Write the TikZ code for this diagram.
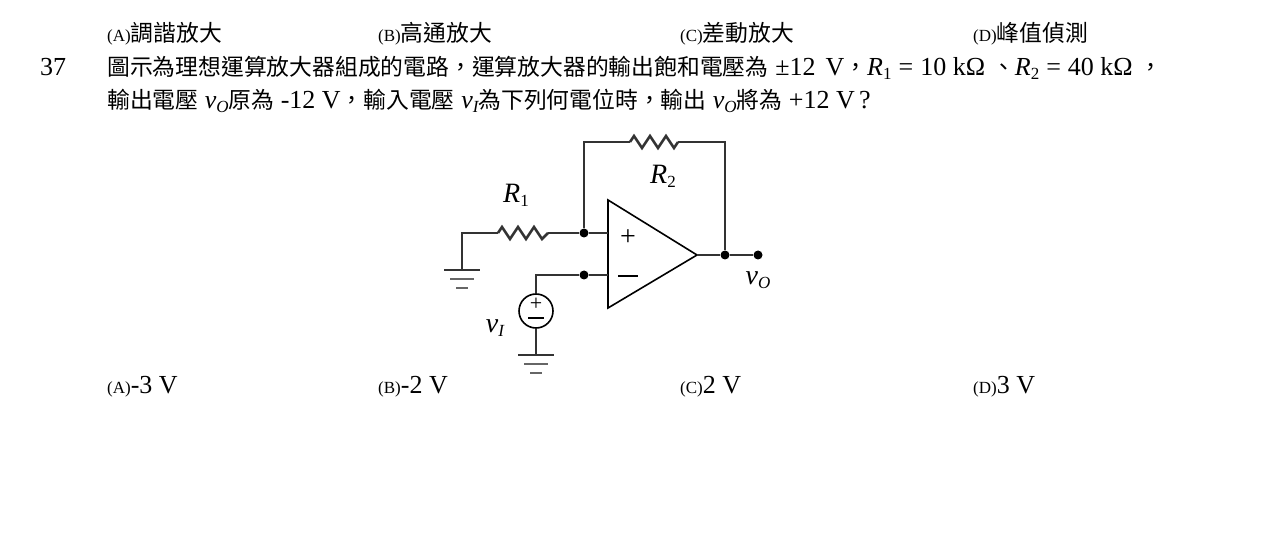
\documentclass[tikz,border=0pt]{standalone}
\usepackage{fontspec}
\setmainfont{Liberation Serif}
\newfontfamily\cjk{Noto Sans CJK TC}
\usetikzlibrary{calc}
\newcommand{\ital}[1]{\textit{#1}}
\newcommand{\subs}[1]{\raisebox{-0.3ex}{\fontsize{17}{17}\selectfont #1}}
\newcommand{\opt}[1]{{\fontsize{17}{17}\selectfont(#1)}}
\newcommand{\gp}{\hspace{7pt}}
\begin{document}
\begin{tikzpicture}[x=1pt,y=-1pt,
  txt/.style={anchor=base west,inner sep=0pt,font=\fontsize{26}{28}\selectfont},
  wire/.style={line width=2.6pt,draw=black!80},
  dotn/.style={circle,fill=black,inner sep=0pt,minimum size=9pt},
  lbl/.style={inner sep=0pt,font=\fontsize{28}{30}\selectfont\itshape}]
\useasboundingbox[fill=white] (0,0) rectangle (1274,534);
\def\cj{\cjk\fontsize{22.8}{24}\selectfont}
% question text
\node[txt] (oa) at (107,42) {\opt{A}{\cj 調諧放大}};
\node[txt] (ob) at (378,42) {\opt{B}{\cj 高通放大}};
\node[txt] (oc) at (680,42) {\opt{C}{\cj 差動放大}};
\node[txt] (od) at (973,42) {\opt{D}{\cj 峰值偵測}};
\node[txt] (num) at (40,76) {37};
\node[txt] (l2) at (107,76) {{\cj 圖示為理想運算放大器組成的電路，運算放大器的輸出飽和電壓為}\gp±12\hspace{10pt}V{\cj ，}\ital{R}\subs{1}\gp=\gp10 kΩ\gp{\cj 、}\ital{R}\subs{2}\gp=\gp40 kΩ\gp{\cj ，}};
\node[txt] (l3) at (107,109) {{\cj 輸出電壓} \ital{v}\subs{\itshape O}{\cj 原為} -12 V{\cj ，輸入電壓} \ital{v}\subs{\itshape I}{\cj 為下列何電位時，輸出} \ital{v}\subs{\itshape O}{\cj 將為} +12 V\,?};
\node[txt] (pa) at (107,393) {\opt{A}-3 V};
\node[txt] (pb) at (378,393) {\opt{B}-2 V};
\node[txt] (pc) at (680,393) {\opt{C}2 V};
\node[txt] (pd) at (973,393) {\opt{D}3 V};
% circuit coordinates
\coordinate (g1) at (462,270);
\coordinate (c1) at (462,233);
\coordinate (r1a) at (498,233);
\coordinate (r1b) at (548,233);
\coordinate (fbtl) at (584,142);
\coordinate (r2a) at (630,142);
\coordinate (r2b) at (678,142);
\coordinate (fbtr) at (725,142);
\coordinate (inp) at (608,233);
\coordinate (inm) at (608,275);
\coordinate (c2) at (536,275);
\coordinate (g2) at (536,355);
\node[dotn] (jp) at (584,233) {};
\node[dotn] (jm) at (584,275) {};
\node[dotn] (jo) at (725,255) {};
\node[dotn] (out) at (758,255) {};
\node[circle,draw,line width=1.6pt,minimum size=34pt,inner sep=0pt] (src) at (536,311) {};
\node[inner sep=0pt,font=\fontsize{22}{22}\selectfont] (srcp) at (536,304) {+};
\draw[line width=1.2pt] (528,318) -- (544,318);
% opamp
\draw[line width=1.6pt] (608,200) -- (697,255) -- (608,308) -- cycle;
\coordinate (tip) at (697,255);
\node[inner sep=0pt,font=\fontsize{28}{28}\selectfont] (pl) at (628,238) {+};
\draw[line width=1.4pt] (618,276) -- (638,276);
% wires
\draw[wire] (g1) -- (c1) -- (r1a);
\draw[wire] (r1a) -- ++(4,-6) -- ++(8,12) -- ++(8,-12) -- ++(8,12) -- ++(8,-12) -- ++(8,12) -- ++(6,-6) -- (r1b);
\draw[wire] (r1b) -- (jp) -- (inp);
\draw[wire] (jp) -- (fbtl) -- (r2a);
\draw[wire] (r2a) -- ++(4,-6) -- ++(8,12) -- ++(8,-12) -- ++(8,12) -- ++(8,-12) -- ++(8,12) -- ++(4,-6) -- (r2b);
\draw[wire] (r2b) -- (fbtr) -- (jo);
\draw[wire] (tip) -- (jo) -- (out);
\draw[wire] (inm) -- (jm) -- (c2) -- (src.north);
\draw[wire] (src.south) -- (g2);
% grounds
\foreach \g in {g1,g2}{
  \draw[line width=2.6pt,draw=black!80] ($(\g)+(-18,0)$) -- ($(\g)+(18,0)$);
  \draw[line width=2.6pt,draw=black!60] ($(\g)+(-12,9)$) -- ($(\g)+(12,9)$);
  \draw[line width=2.6pt,draw=black!60] ($(\g)+(-6,18)$) -- ($(\g)+(6,18)$);
}
% labels
\node[lbl] (lr1) at (516,195) {R\subs{\upshape 1}};
\node[lbl] (lr2) at (663,176) {R\subs{\upshape 2}};
\node[lbl] (lvo) at (758,280) {v\subs{O}};
\node[lbl] (lvi) at (495,328) {v\subs{I}};
\end{tikzpicture}
\end{document}
